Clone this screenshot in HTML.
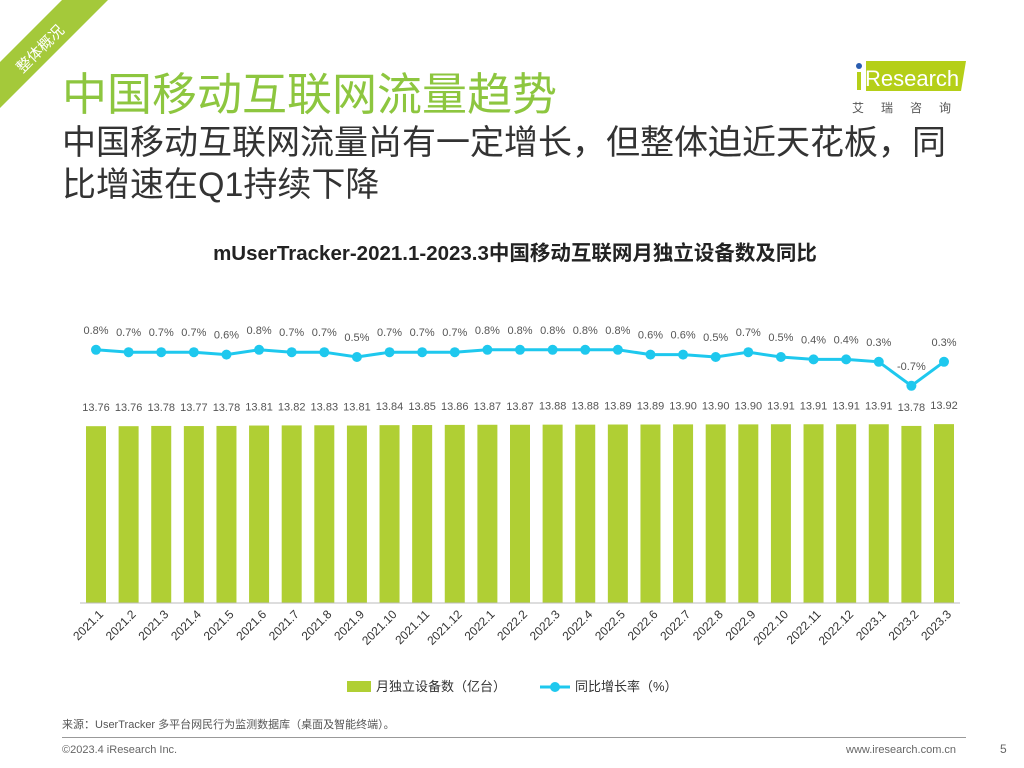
<!DOCTYPE html>
<html><head><meta charset="utf-8">
<style>
body{margin:0;width:1024px;height:768px;background:#fff;position:relative;overflow:hidden;font-family:"Liberation Sans","Noto Sans CJK SC",sans-serif;}
.abs{position:absolute;}
</style></head><body>
<svg class="abs" style="left:0;top:0" width="120" height="120"><polygon points="62,0 108,0 0,108 0,62" fill="#a4c93a"/></svg>
<div class="abs" style="left:10px;top:38px;color:#fff;font-size:15px;transform:rotate(-45deg);">整体概况</div>
<div class="abs" style="left:62px;top:58px;font-size:45px;color:#8dc63f;">中国移动互联网流量趋势</div>
<div class="abs" style="left:62px;top:122px;font-size:34px;color:#333;line-height:42px;width:960px;">中国移动互联网流量尚有一定增长，但整体迫近天花板，同<br>比增速在Q1持续下降</div>
<div class="abs" style="left:848px;top:55px;width:122px;height:60px;">
<svg width="122" height="60"><polygon points="18,6 118,6 113,36 18,36" fill="#b5cf18"/><circle cx="11" cy="11" r="3" fill="#2a5db0"/><rect x="9" y="17" width="4" height="18" fill="#b5cf18"/><text x="17" y="31" font-size="22" fill="#fff" font-family="Liberation Sans">Research</text><text x="4" y="57" font-size="12" fill="#555" font-family="Noto Sans CJK SC" letter-spacing="17">艾瑞咨询</text></svg></div>
<div class="abs" style="left:0;width:1030px;top:236px;text-align:center;font-size:20.5px;font-weight:bold;color:#222;">mUserTracker-2021.1-2023.3中国移动互联网月独立设备数及同比</div>
<svg class="abs" style="left:0;top:0" width="1024" height="768" id="chart"></svg>
<div class="abs" style="left:62px;top:716px;font-size:11px;color:#555;">来源：UserTracker 多平台网民行为监测数据库（桌面及智能终端）。</div>
<div class="abs" style="left:62px;top:737px;width:904px;height:1px;background:#999;"></div>
<div class="abs" style="left:62px;top:744px;font-size:11px;color:#666;">©2023.4 iResearch Inc.</div>
<div class="abs" style="left:846px;top:744px;font-size:11px;color:#666;">www.iresearch.com.cn</div>
<div class="abs" style="left:1000px;top:742px;font-size:12px;color:#666;">5</div>
<script>
const categories=["2021.1","2021.2","2021.3","2021.4","2021.5","2021.6","2021.7","2021.8","2021.9","2021.10","2021.11","2021.12","2022.1","2022.2","2022.3","2022.4","2022.5","2022.6","2022.7","2022.8","2022.9","2022.10","2022.11","2022.12","2023.1","2023.2","2023.3"];
const devices=[13.76,13.76,13.78,13.77,13.78,13.81,13.82,13.83,13.81,13.84,13.85,13.86,13.87,13.87,13.88,13.88,13.89,13.89,13.90,13.90,13.90,13.91,13.91,13.91,13.91,13.78,13.92];
const growth=[0.8,0.7,0.7,0.7,0.6,0.8,0.7,0.7,0.5,0.7,0.7,0.7,0.8,0.8,0.8,0.8,0.8,0.6,0.6,0.5,0.7,0.5,0.4,0.4,0.3,-0.7,0.3];
const NS="http://www.w3.org/2000/svg";
const svg=document.getElementById('chart');
const x0=96,step=(944-96)/26,base=603;
const xs=i=>x0+i*step;
const yb=v=>base-v*12.85;
const yl=v=>369-v*24;
function mk(t,a){const e=document.createElementNS(NS,t);for(const k in a)e.setAttribute(k,a[k]);svg.appendChild(e);return e;}
devices.forEach((v,i)=>{
 const r=mk('rect',{x:xs(i)-10,y:yb(v),width:20,height:base-yb(v),fill:'#b0cf34'});
 
 
 const t=mk('text',{x:xs(i),y:yb(v)-15,'text-anchor':'middle','font-size':11,fill:'#555'});t.textContent=v.toFixed(2);
 
 
 const l=mk('text',{x:xs(i)+8,y:base+12,'text-anchor':'end','font-size':12,fill:'#333',transform:`rotate(-45 ${xs(i)+8} ${base+12})`});l.textContent=categories[i];
 
 
});
const ax=mk('line',{x1:80,x2:960,y1:base,y2:base,stroke:'#bbb'});


const pl=mk('polyline',{points:growth.map((v,i)=>xs(i)+','+yl(v)).join(' '),fill:'none',stroke:'#1ec8ee','stroke-width':3});


growth.forEach((v,i)=>{
 const c=mk('circle',{cx:xs(i),cy:yl(v),r:5,fill:'#1ec8ee'});
 
 
 const t=mk('text',{x:xs(i),y:yl(v)-16,'text-anchor':'middle','font-size':11,fill:'#555'});t.textContent=v.toFixed(1)+'%';
 
 
});
const lg1=mk('rect',{x:347,y:681,width:24,height:11,fill:'#b0cf34'});


const lt1=mk('text',{x:376,y:691,'font-size':13,fill:'#333'});lt1.textContent='月独立设备数（亿台）';


const lg2=mk('line',{x1:540,x2:570,y1:687,y2:687,stroke:'#1ec8ee','stroke-width':3});


mk('circle',{cx:555,cy:687,r:5,fill:'#1ec8ee'});
const lt2=mk('text',{x:575,y:691,'font-size':13,fill:'#333'});lt2.textContent='同比增长率（%）';


</script>
</body></html>
